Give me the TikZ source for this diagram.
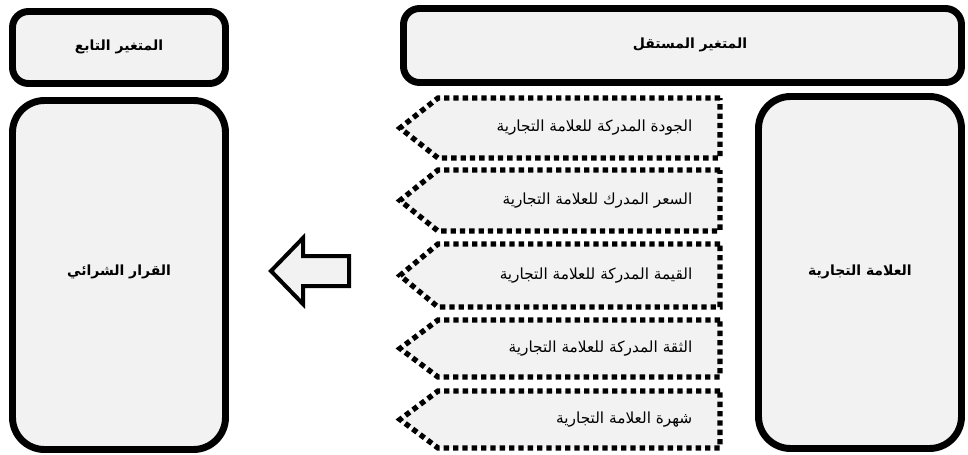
\documentclass[tikz,border=0pt]{standalone}
\usepackage{fontspec}
\TeXXeTstate=1
\newfontfamily\arabicfont[Script=Arabic]{DejaVu Sans}
\definecolor{boxfill}{HTML}{F2F2F2}
\tikzset{
  bigbox/.style={draw=black, fill=boxfill, line width=5.2pt},
  dashbox/.style={draw=black, fill=boxfill, line width=4pt, dash pattern=on 4pt off 3pt},
  titletxt/.style={font=\arabicfont\bfseries\fontsize{10.5}{12}\selectfont},
  itemtxt/.style={font=\arabicfont\fontsize{11.5}{13}\selectfont, anchor=east},
}
\begin{document}
\begin{tikzpicture}[x=0.75pt,y=-0.75pt]
\useasboundingbox (0,0) rectangle (968,454);
% top boxes
\draw[bigbox, rounded corners=12pt] (12.5,11.5) rectangle (225.5,83.5);
\node[titletxt] (dep) at (119,47) {\beginR المتغير التابع\endR};
\draw[bigbox, rounded corners=12pt] (403.5,8.5) rectangle (961.5,82.5);
\node[titletxt] (indep) at (690,45) {\beginR المتغير المستقل\endR};
% big boxes
\draw[bigbox, rounded corners=24pt] (12.5,100.5) rectangle (225.5,449.5);
\node[titletxt] (dec) at (119,272) {\beginR القرار الشرائي\endR};
\draw[bigbox, rounded corners=24pt] (758.5,96.5) rectangle (961.5,448.5);
\node[titletxt] (brand) at (860,272) {\beginR العلامة التجارية\endR};
% hollow arrow
\draw[draw=black, fill=boxfill, line width=3pt, line join=miter]
  (349,256) -- (303,256) -- (303,238) -- (271,271) -- (303,304) -- (303,286) -- (349,286) -- cycle;
% dashed pentagons
\foreach \i/\yt/\yb/\txt in {
  1/98/158/{الجودة المدركة للعلامة التجارية},
  2/170/231/{السعر المدرك للعلامة التجارية},
  3/244/307/{القيمة المدركة للعلامة التجارية},
  4/320/377/{الثقة المدركة للعلامة التجارية},
  5/391/448/{شهرة العلامة التجارية}} {
  \draw[dashbox] (720,\yt) -- (438,\yt) -- (400,{(\yt+\yb)/2}) -- (438,\yb) -- (720,\yb) -- cycle;
  \node[itemtxt] (item\i) at (697,{(\yt+\yb)/2}) {\beginR \txt\endR};
}
\end{tikzpicture}
\end{document}
